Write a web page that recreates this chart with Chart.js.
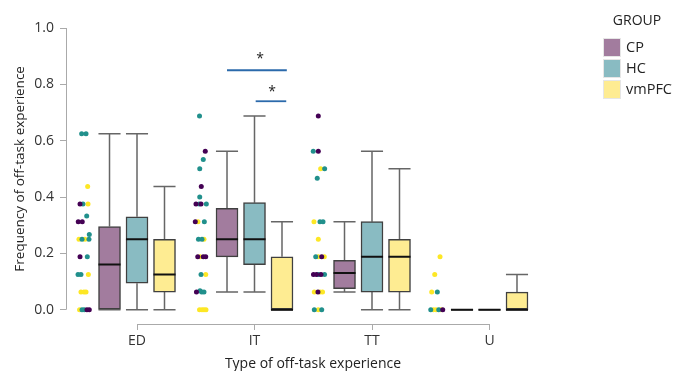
<!DOCTYPE html>
<html>
<head>
<meta charset="utf-8">
<script src="https://cdn.jsdelivr.net/npm/chart.js@4"></script>
<style>
  body { margin: 0; background: #fff; }
</style>
</head>
<body>
<canvas id="boxChart" width="673" height="371"></canvas>
<script>
const categories = ['ED', 'IT', 'TT', 'U'];
const groups = ['CP', 'HC', 'vmPFC'];
const yTicks = [0, 0.2, 0.4, 0.6, 0.8, 1.0];

// box stats, one value per category (ED, IT, TT, U)
const cpMin = [0, 0.0625, 0.0625, 0];
const cpQ1  = [0, 0.1875, 0.075, 0];
const cpMed = [0.16, 0.25, 0.13, 0];
const cpQ3  = [0.295, 0.36, 0.175, 0];
const cpMax = [0.625, 0.5625, 0.3125, 0];

const hcMin = [0, 0.0625, 0, 0];
const hcQ1  = [0.094, 0.16, 0.0625, 0];
const hcMed = [0.25, 0.25, 0.1875, 0];
const hcQ3  = [0.33, 0.38, 0.3125, 0];
const hcMax = [0.625, 0.6875, 0.5625, 0];

const vmMin = [0, 0, 0, 0];
const vmQ1  = [0.0625, 0, 0.0625, 0];
const vmMed = [0.125, 0, 0.1875, 0];
const vmQ3  = [0.25, 0.1875, 0.25, 0.0625];
const vmMax = [0.4375, 0.3125, 0.5, 0.125];

// raw points: [category index, jitter, value]
const cpDots = [
  [0,-0.485,0.375],[0,-0.50,0.3125],[0,-0.466,0.3125],[0,-0.485,0.1875],[0,-0.426,0],[0,-0.406,0],
  [1,-0.419,0.5625],[1,-0.453,0.4375],[1,-0.498,0.375],[1,-0.455,0.375],[1,-0.504,0.3125],
  [1,-0.483,0.1875],[1,-0.436,0.1875],[1,-0.415,0.1875],[1,-0.494,0.0625],
  [2,-0.457,0.6875],[2,-0.457,0.5625],[2,-0.428,0.1875],[2,-0.498,0.125],[2,-0.472,0.125],
  [2,-0.434,0.125],[2,-0.46,0.0625],
  [3,-0.398,0]
];
const hcDots = [
  [0,-0.471,0.625],[0,-0.434,0.625],[0,-0.46,0.375],[0,-0.428,0.333],[0,-0.406,0.267],
  [0,-0.468,0.25],[0,-0.409,0.25],[0,-0.423,0.1875],[0,-0.502,0.125],[0,-0.477,0.125],
  [0,-0.468,0],[0,-0.449,0],
  [1,-0.468,0.6875],[1,-0.436,0.533],[1,-0.466,0.5],[1,-0.466,0.4],[1,-0.47,0.375],[1,-0.41,0.375],
  [1,-0.427,0.3125],[1,-0.477,0.25],[1,-0.447,0.25],[1,-0.455,0.125],[1,-0.464,0.067],
  [1,-0.449,0.0625],[1,-0.43,0.0625],
  [2,-0.5,0.5625],[2,-0.403,0.5],[2,-0.466,0.467],[2,-0.443,0.3125],[2,-0.417,0.3125],
  [2,-0.479,0.1875],[2,-0.455,0.125],[2,-0.404,0.125],[2,-0.491,0],[2,-0.428,0],
  [3,-0.444,0.0625],[3,-0.5,0],[3,-0.432,0]
];
const vmDots = [
  [0,-0.42,0.4375],[0,-0.417,0.375],[0,-0.494,0.25],[0,-0.443,0.25],[0,-0.414,0.125],
  [0,-0.477,0.0625],[0,-0.451,0.0625],[0,-0.434,0.0625],[0,-0.489,0],
  [1,-0.481,0.3125],[1,-0.43,0.25],[1,-0.464,0.1875],[1,-0.415,0.125],
  [1,-0.468,0],[1,-0.447,0],[1,-0.43,0],[1,-0.413,0],
  [2,-0.437,0.5],[2,-0.494,0.3125],[2,-0.457,0.25],[2,-0.457,0.1875],[2,-0.406,0.1875],
  [2,-0.491,0.0625],[2,-0.443,0.0625],[2,-0.421,0.0625],[2,-0.457,0],
  [3,-0.421,0.1875],[3,-0.466,0.125],[3,-0.492,0.0625],[3,-0.478,0],[3,-0.455,0],[3,-0.415,0]
];

// significance brackets (all in IT)
const sigLevel = [0.85, 0.74];
const sigFrom = [-0.234, 0.01];
const sigTo = [0.275, 0.27];
const sigStarX = [0.047, 0.149];
const sigStarY = [0.876, 0.759];
const sigLabel = ['*', '*'];

// styling
const groupOffset = [-0.234, 0, 0.234];
const halfBox = 0.094;
const boxFill = ['rgb(162,124,158)', 'rgb(137,187,194)', 'rgb(254,236,146)'];
const dotColor = ['#440154', '#21908C', '#FDE725'];
const fontFam = '"Open Sans", sans-serif';
const yTitle = 'Frequency of off-task experience';

const stats = [
  [cpMin, cpQ1, cpMed, cpQ3, cpMax],
  [hcMin, hcQ1, hcMed, hcQ3, hcMax],
  [vmMin, vmQ1, vmMed, vmQ3, vmMax]
];
const dots = [cpDots, hcDots, vmDots];

let datasets = [];

groups.forEach((g, gi) => {
  const [mn, q1, md, q3, mx] = stats[gi];
  let box = [], whisk = [], med = [];
  categories.forEach((c, i) => {
    const x = i + 1 + groupOffset[gi];
    box.push({x: x, y: [q1[i], q3[i]]});
    whisk.push({x: x, y: mn[i]}, {x: x, y: q1[i]}, {x: x, y: null});
    whisk.push({x: x, y: q3[i]}, {x: x, y: mx[i]}, {x: x, y: null});
    whisk.push({x: x - halfBox, y: mx[i]}, {x: x + halfBox, y: mx[i]}, {x: x, y: null});
    whisk.push({x: x - halfBox, y: mn[i]}, {x: x + halfBox, y: mn[i]}, {x: x, y: null});
    med.push({x: x - halfBox, y: md[i]}, {x: x + halfBox, y: md[i]}, {x: x, y: null});
  });

  datasets.push({
    type: 'bar', label: g, data: box,
    backgroundColor: boxFill[gi], borderColor: '#404040', borderWidth: 1.5,
    borderSkipped: false, grouped: false, barThickness: 22, maxBarThickness: 22,
    order: 2
  });
  datasets.push({
    type: 'line', label: g + ' whiskers', data: whisk,
    borderColor: '#666', borderWidth: 1.5, pointRadius: 0, spanGaps: false,
    fill: false, tension: 0, clip: false, order: 3
  });
  datasets.push({
    type: 'line', label: g + ' median', data: med,
    borderColor: '#111', borderWidth: 2, pointRadius: 0, spanGaps: false,
    fill: false, tension: 0, clip: false, order: 1
  });
  datasets.push({
    type: 'scatter', label: g + ' points',
    data: dots[gi].map(d => ({x: d[0] + 1 + d[1], y: d[2]})),
    backgroundColor: dotColor[gi], borderWidth: 0, pointRadius: 2.5,
    clip: false, order: 4
  });
});

sigLevel.forEach((lv, k) => {
  datasets.push({
    type: 'line', label: 'sig' + k,
    data: [{x: 2 + sigFrom[k], y: lv}, {x: 2 + sigTo[k], y: lv}],
    borderColor: '#2B6AAB', borderWidth: 1.8, pointRadius: 0, clip: false, order: 0
  });
});

const extras = {
  id: 'extras',
  beforeDatasetsDraw(chart) {
    const {ctx, chartArea, scales: {x, y}} = chart;
    const y0 = y.getPixelForValue(yTicks[0]);
    const y1 = y.getPixelForValue(yTicks[yTicks.length - 1]);
    ctx.save();
    ctx.strokeStyle = '#aaa';
    ctx.lineWidth = 1;
    ctx.beginPath();
    ctx.moveTo(chartArea.left + 0.5, y0);
    ctx.lineTo(chartArea.left + 0.5, y1);
    ctx.moveTo(x.getPixelForValue(1), chartArea.bottom + 0.5);
    ctx.lineTo(x.getPixelForValue(categories.length), chartArea.bottom + 0.5);
    ctx.stroke();

    // y axis title, centred on the 0..1 axis line
    ctx.translate(20, (y0 + y1) / 2);
    ctx.rotate(-Math.PI / 2);
    ctx.fillStyle = '#222';
    ctx.font = '13.5px ' + fontFam;
    ctx.textAlign = 'center';
    ctx.textBaseline = 'middle';
    ctx.fillText(yTitle, 0, 0);
    ctx.restore();
  },
  afterDraw(chart) {
    const {ctx, scales: {x, y}} = chart;
    ctx.save();
    ctx.fillStyle = '#222';
    ctx.font = '14px ' + fontFam;
    ctx.textAlign = 'center';
    ctx.textBaseline = 'alphabetic';
    sigLabel.forEach((s, k) => {
      ctx.fillText(s, x.getPixelForValue(2 + sigStarX[k]), y.getPixelForValue(sigStarY[k]));
    });

    // legend
    ctx.fillStyle = '#222';
    ctx.font = '14px ' + fontFam;
    ctx.textBaseline = 'middle';
    ctx.fillText('GROUP', 637, 21);
    ctx.textAlign = 'left';
    ctx.font = '14.5px ' + fontFam;
    groups.forEach((g, gi) => {
      const top = 38 + gi * 21;
      ctx.fillStyle = boxFill[gi];
      ctx.fillRect(603, top, 18, 19);
      ctx.strokeStyle = '#e6e6e6';
      ctx.lineWidth = 1;
      ctx.strokeRect(603.5, top + 0.5, 17, 18);
      ctx.fillStyle = '#222';
      ctx.fillText(g, 626, top + 10);
    });
    ctx.restore();
  }
};

new Chart(document.getElementById('boxChart'), {
  type: 'scatter',
  data: { datasets: datasets },
  plugins: [extras],
  options: {
    responsive: false,
    animation: false,
    layout: { padding: { top: 28, right: 113, bottom: 0, left: 0 } },
    plugins: { legend: { display: false }, tooltip: { enabled: false } },
    scales: {
      x: {
        type: 'linear', offset: false,
        min: 0.3957, max: 4.6,
        afterFit: s => { s.height = 47; },
        afterBuildTicks: s => { s.ticks = categories.map((c, i) => ({value: i + 1})); },
        ticks: {
          callback: v => categories[v - 1],
          font: { size: 14, family: fontFam }, color: '#333', padding: 3,
          maxRotation: 0, autoSkip: false
        },
        grid: { offset: false, drawOnChartArea: false, tickLength: 6, color: '#aaa' },
        border: { display: false },
        title: {
          display: true, text: 'Type of off-task experience',
          font: { size: 14, family: fontFam, lineHeight: 1 }, color: '#222',
          padding: { top: 0, bottom: 0 }
        }
      },
      y: {
        min: -0.0508, max: 1.0,
        afterFit: s => { s.width = 66; },
        afterBuildTicks: s => { s.ticks = yTicks.map(v => ({value: v})); },
        ticks: {
          callback: v => v.toFixed(1),
          font: { size: 14, family: fontFam }, color: '#333', padding: 6
        },
        grid: { offset: false, drawOnChartArea: false, tickLength: 6, color: '#aaa' },
        border: { display: false }
      }
    }
  }
});
</script>
</body>
</html>
